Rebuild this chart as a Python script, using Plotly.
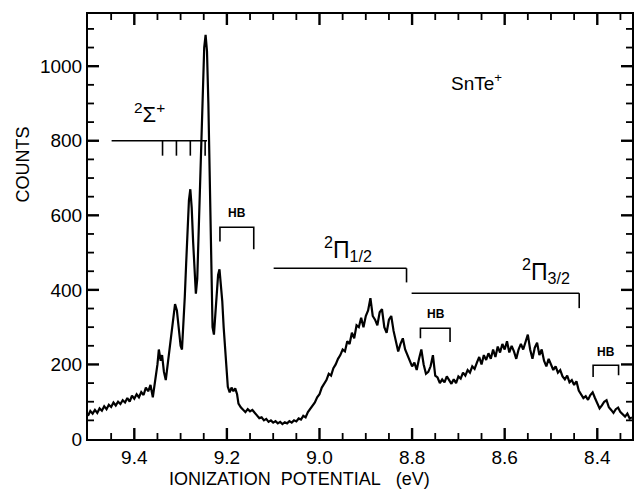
import plotly.graph_objects as go

# Spectrum (ionization potential in eV, counts)
ip_ev = [
    9.500, 9.495, 9.490, 9.485, 9.480, 9.475, 9.470, 9.465, 9.460, 9.455,
    9.450, 9.445, 9.440, 9.435, 9.430, 9.425, 9.420, 9.415, 9.410, 9.405,
    9.400, 9.395, 9.390, 9.385, 9.380, 9.375, 9.370, 9.365, 9.360, 9.355,
    9.350, 9.347, 9.343, 9.340, 9.336, 9.332, 9.328, 9.324, 9.320, 9.316,
    9.312, 9.308, 9.304, 9.300, 9.297, 9.294, 9.291, 9.288, 9.285, 9.282,
    9.279, 9.276, 9.273, 9.270, 9.267, 9.264, 9.261, 9.258, 9.255, 9.252,
    9.249, 9.246, 9.243, 9.240, 9.237, 9.234, 9.231, 9.228, 9.225, 9.222,
    9.219, 9.216, 9.213, 9.210, 9.207, 9.204, 9.201, 9.198, 9.194, 9.190,
    9.186, 9.182, 9.178, 9.175, 9.170, 9.165, 9.160, 9.155, 9.150, 9.145,
    9.140, 9.135, 9.130, 9.125, 9.120, 9.115, 9.110, 9.105, 9.100, 9.095,
    9.090, 9.085, 9.080, 9.075, 9.070, 9.065, 9.060, 9.055, 9.050, 9.045,
    9.040, 9.035, 9.030, 9.025, 9.020, 9.015, 9.010, 9.005, 9.000, 8.995,
    8.990, 8.985, 8.980, 8.975, 8.970, 8.965, 8.960, 8.955, 8.950, 8.945,
    8.940, 8.935, 8.930, 8.925, 8.920, 8.915, 8.910, 8.905, 8.900, 8.895,
    8.890, 8.885, 8.880, 8.875, 8.870, 8.865, 8.860, 8.855, 8.850, 8.845,
    8.840, 8.835, 8.830, 8.825, 8.820, 8.815, 8.810, 8.805, 8.800, 8.795,
    8.790, 8.785, 8.780, 8.775, 8.770, 8.765, 8.760, 8.755, 8.750, 8.745,
    8.740, 8.735, 8.730, 8.725, 8.720, 8.715, 8.710, 8.705, 8.700, 8.695,
    8.690, 8.685, 8.680, 8.675, 8.670, 8.665, 8.660, 8.655, 8.650, 8.645,
    8.640, 8.635, 8.630, 8.625, 8.620, 8.615, 8.610, 8.605, 8.600, 8.595,
    8.590, 8.585, 8.580, 8.575, 8.570, 8.565, 8.560, 8.555, 8.550, 8.545,
    8.540, 8.535, 8.530, 8.525, 8.520, 8.515, 8.510, 8.505, 8.500, 8.495,
    8.490, 8.485, 8.480, 8.475, 8.470, 8.465, 8.460, 8.455, 8.450, 8.445,
    8.440, 8.435, 8.430, 8.425, 8.420, 8.415, 8.410, 8.405, 8.400, 8.395,
    8.390, 8.385, 8.380, 8.375, 8.370, 8.365, 8.360, 8.355, 8.350, 8.345,
    8.340, 8.335, 8.330, 8.325,
]
counts = [
    62, 75, 68, 78, 70, 82, 76, 88, 80, 92,
    86, 98, 90, 100, 94, 104, 98, 110, 100, 116,
    108, 120, 112, 126, 118, 138, 128, 145, 112, 150,
    200, 240, 210, 225, 180, 158, 200, 240, 280, 320,
    362, 345, 300, 250, 240, 300, 380, 470, 560, 640,
    670, 620, 530, 440, 390, 430, 560, 700, 840, 960,
    1050, 1084, 1040, 900, 700, 480, 300, 280, 330, 400,
    440, 455, 420, 370, 300, 240, 180, 140, 125, 138,
    128, 136, 120, 95, 85, 78, 72, 80, 74, 78,
    70, 62, 56, 58, 50, 54, 46, 50, 44, 48,
    42, 46, 40, 45, 42, 48, 44, 50, 47, 55,
    52, 62, 58, 72, 80, 90, 98, 112, 120, 138,
    150, 158, 175, 170, 190, 200, 215, 225, 240, 235,
    262, 255, 285, 270, 305, 300, 325, 300, 330, 345,
    378, 330, 320, 305, 340, 348, 300, 285, 320, 330,
    290, 260, 235, 255, 270, 240, 225, 215, 195, 205,
    185, 215, 240, 200, 175, 180, 195, 225, 170, 165,
    150, 160, 152, 168, 158, 148, 160, 150, 168, 162,
    178, 170, 185, 178, 195, 188, 205, 220, 200, 225,
    212, 230, 215, 240, 220, 248, 232, 255, 240, 262,
    232, 250, 235, 215, 240, 255, 240, 262, 280, 240,
    215, 245, 258, 225, 240, 210, 195, 215, 200, 185,
    195, 178, 185, 168, 160, 170, 152, 158, 145, 155,
    130, 120, 110, 115, 105, 118, 125, 110, 95, 82,
    90, 100, 104, 85, 78, 70, 80, 84, 72, 66,
    60, 68, 55, 58,
]

# Axis ranges and ticks
x_range = [9.5, 8.325]
y_range = [0, 1140]
x_tick_start = 9.4
x_tick_step = 0.2
x_minor_step = 0.05
y_tick_step = 200
y_minor_step = 50

# Sigma state progression: horizontal bar (start, end, level) and vibrational marks
sigma_bar = (9.449, 9.243, 800)
sigma_marks = [9.339, 9.309, 9.279, 9.247]
sigma_mark_bottom = 760

# Pi state bars: (start, end, level, end drop)
pi_half_bar = (9.099, 8.812, 458, 420)
pi_threehalf_bar = (8.801, 8.439, 391, 351)

# Hot band brackets: (left, right, top, left bottom, right bottom)
hb_brackets = [
    (9.215, 9.142, 568, 530, 509),
    (8.782, 8.718, 297, 270, 260),
    (8.409, 8.354, 198, 166, 171),
]
hb_label_pos = [(9.179, 605), (8.748, 335), (8.382, 233)]

W, H = 634, 496
M_L, M_R, M_T, M_B = 88, 2, 14, 57
plot_w = W - M_L - M_R
plot_h = H - M_T - M_B
x_per_px = abs(x_range[0] - x_range[1]) / plot_w
y_per_px = (y_range[1] - y_range[0]) / plot_h

fig = go.Figure()
fig.add_trace(go.Scatter(x=ip_ev, y=counts, mode="lines",
                         line=dict(color="black", width=2.2), showlegend=False))

line_style = dict(color="black", width=1.6)
shapes = []
shapes.append(dict(type="line", x0=sigma_bar[0], x1=sigma_bar[1], y0=sigma_bar[2], y1=sigma_bar[2],
                   xref="x", yref="y", line=line_style))
for m in sigma_marks:
    shapes.append(dict(type="line", x0=m, x1=m, y0=sigma_bar[2], y1=sigma_mark_bottom,
                       xref="x", yref="y", line=line_style))
for bar in (pi_half_bar, pi_threehalf_bar):
    shapes.append(dict(type="line", x0=bar[0], x1=bar[1], y0=bar[2], y1=bar[2],
                       xref="x", yref="y", line=line_style))
    shapes.append(dict(type="line", x0=bar[1], x1=bar[1], y0=bar[2], y1=bar[3],
                       xref="x", yref="y", line=line_style))
for l, r, top, lb, rb in hb_brackets:
    shapes.append(dict(type="path",
                       path=f"M {l},{lb} L {l},{top} L {r},{top} L {r},{rb}",
                       xref="x", yref="y", line=line_style))

# Inside tick marks on all four sides as data-space line shapes, built from the axis steps
MAJOR_LEN, MINOR_LEN = 11, 6
n_x = int(round((x_range[0] - x_range[1]) / x_minor_step))
for i in range(1, n_x + 1):
    xv = round(x_range[0] - i * x_minor_step, 3)
    if xv <= x_range[1]:
        continue
    k = (x_tick_start - xv) / x_tick_step
    major = abs(k - round(k)) < 1e-6
    dy = (MAJOR_LEN if major else MINOR_LEN) * y_per_px
    st = dict(color="black", width=2.4 if major else 1.8)
    shapes.append(dict(type="line", xref="x", yref="y", x0=xv, x1=xv,
                       y0=y_range[0], y1=y_range[0] + dy, line=st, layer="above"))
    shapes.append(dict(type="line", xref="x", yref="y", x0=xv, x1=xv,
                       y0=y_range[1], y1=y_range[1] - dy, line=st, layer="above"))
n_y = int(y_range[1] // y_minor_step)
for i in range(1, n_y + 1):
    yv = i * y_minor_step
    major = yv % y_tick_step == 0
    dx = (MAJOR_LEN if major else MINOR_LEN) * x_per_px
    st = dict(color="black", width=2.4 if major else 1.8)
    shapes.append(dict(type="line", xref="x", yref="y", x0=x_range[0], x1=x_range[0] - dx,
                       y0=yv, y1=yv, line=st, layer="above"))
    shapes.append(dict(type="line", xref="x", yref="y", x0=x_range[1], x1=x_range[1] + dx,
                       y0=yv, y1=yv, line=st, layer="above"))

font_family = "Liberation Sans, Arial, sans-serif"
annotations = [
    dict(x=9.367, y=875, text="<sup>2</sup>Σ<sup>+</sup>", showarrow=False,
         font=dict(size=22, color="black", family=font_family)),
    dict(x=8.66, y=958, text="SnTe<sup>+</sup>", showarrow=False,
         font=dict(size=19, color="black", family=font_family)),
    dict(x=8.939, y=511, text="<sup>2</sup>Π<sub>1/2</sub>", showarrow=False,
         font=dict(size=23, color="black", family=font_family)),
    dict(x=8.51, y=450, text="<sup>2</sup>Π<sub>3/2</sub>", showarrow=False,
         font=dict(size=23, color="black", family=font_family)),
    dict(x=0.388, y=-0.095, xref="paper", yref="paper", xanchor="center", yanchor="middle",
         text="IONIZATION\u00a0\u00a0POTENTIAL\u00a0\u00a0\u00a0(eV)", showarrow=False,
         font=dict(size=18, color="black", family=font_family)),
    dict(x=-0.12, y=0.645, xref="paper", yref="paper", textangle=-90,
         xanchor="center", yanchor="middle",
         text="COUNTS", showarrow=False,
         font=dict(size=18, color="black", family=font_family)),
]
for (hx, hy) in hb_label_pos:
    annotations.append(dict(x=hx, y=hy, text="<b>HB</b>", showarrow=False,
                            font=dict(size=12, color="black", family=font_family)))

fig.update_layout(
    template="none",
    width=W, height=H,
    margin=dict(l=M_L, r=M_R, t=M_T, b=M_B),
    paper_bgcolor="white", plot_bgcolor="white",
    shapes=shapes, annotations=annotations,
    font=dict(family=font_family, color="black"),
)
axis_common = dict(
    showgrid=False, zeroline=False, showline=True, linecolor="black", linewidth=2,
    mirror=True, ticks="", tickfont=dict(size=19, color="black"), automargin=False,
)
fig.update_xaxes(
    range=x_range, tickmode="linear", tick0=x_tick_start, dtick=x_tick_step,
    tickformat=".1f", **axis_common,
)
fig.update_yaxes(
    range=y_range, tickmode="linear", tick0=0, dtick=y_tick_step, **axis_common,
)
fig.write_html("out.html")
